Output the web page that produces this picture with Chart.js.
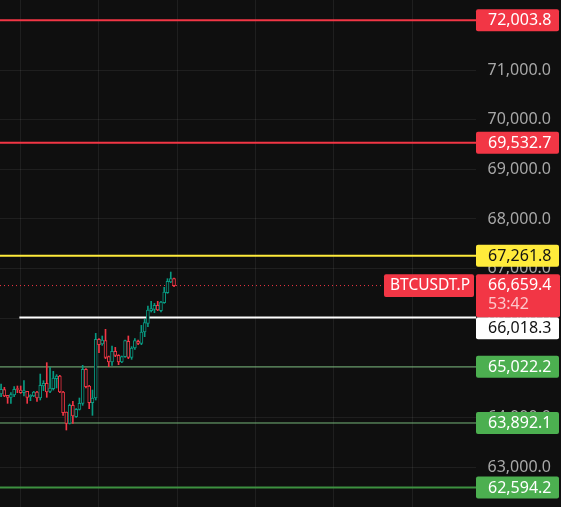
<!DOCTYPE html>
<html>
<head>
<meta charset="utf-8">
<script src="https://cdn.jsdelivr.net/npm/chart.js@4.4.1/dist/chart.umd.min.js"></script>
<style>
  html, body { margin: 0; padding: 0; background: #0f0f0f; }
  canvas { display: block; }
</style>
</head>
<body>
<canvas id="chart" width="561" height="507"></canvas>
<script>
// 1h candles, BTCUSDT.P
const opens  = [64476,64565,64449,64409,64455,64583,64556,64503,64529,64422,64435,64516,64395,64637,64691,64529,64583,64784,64838,64516,64113,63885,64248,64019,64167,64288,64972,64637,64301,64395,65577,65483,65550,65228,65120,65335,65254,65120,65228,65536,65214,65402,65536,65496,65724,65899,66154,66181,66261,66154,66315,66516,66731,66798];
const highs  = [64677,64610,64449,64503,64624,64637,64637,64744,64529,64462,64529,64529,64878,64744,65107,65013,64932,64865,64852,64529,64113,64274,64328,64181,64395,65053,64986,64650,64556,65697,65590,65644,65778,65241,65442,65415,65268,65241,65563,65644,65429,65590,65563,65858,65979,66248,66342,66301,66342,66342,66624,66798,66932,66812];
const lows   = [64422,64422,64288,64288,64422,64503,64489,64435,64288,64341,64422,64328,64355,64543,64409,64503,64556,64597,64503,64046,63751,63871,63885,64006,64154,64248,64597,64181,64046,64355,65308,65456,65187,65026,65053,65228,65066,65107,65214,65187,65174,65375,65469,65469,65630,65832,66127,66113,66154,66127,66301,66503,66718,66637];
const closes = [64570,64435,64409,64462,64570,64570,64503,64543,64409,64449,64516,64395,64650,64691,64516,64597,64798,64838,64516,64100,63885,64248,64033,64167,64288,64972,64624,64301,64395,65577,65469,65563,65214,65120,65335,65254,65120,65228,65550,65214,65402,65550,65496,65724,65912,66167,66194,66261,66167,66328,66530,66744,66798,66659.4];

const levelPrices = [72003.8, 69532.7, 67261.8, 66018.3, 65022.2, 63892.1, 62594.2];
const lastPrice = 66659.4;
const symbol = 'BTCUSDT.P';
const countdown = '53:42';
const priceTicks = [63000, 64000, 65000, 66000, 67000, 68000, 69000, 70000, 71000, 72000];
const dayTicks = [6, 30, 54, 78, 102, 126];   // candle index of each day start

const xMin = -0.337, xMax = 145.56;
const yMin = 62200.6, yMax = 72409.6;

const BG = '#0f0f0f';
const UP = '#089981', DOWN = '#f23645';
const GRID = 'rgba(255,255,255,0.07)';
const FONT = '16px "Noto Sans"';

// line / label look for each level, same order as levelPrices
const levelStyle = [
  { line: '#f23645', width: 2, box: '#f23645', text: '#ffffff', from: xMin },
  { line: '#f23645', width: 2, box: '#f23645', text: '#ffffff', from: xMin },
  { line: '#ffeb3b', width: 2, box: '#ffeb3b', text: '#131313', from: xMin },
  { line: '#ffffff', width: 2, box: '#ffffff', text: '#131313', from: 5.6 },
  { line: 'rgba(129,199,132,0.9)', width: 1, box: '#4caf50', text: '#ffffff', from: xMin },
  { line: 'rgba(129,199,132,0.9)', width: 1, box: '#4caf50', text: '#ffffff', from: xMin },
  { line: '#3d9140', width: 2, box: '#4caf50', text: '#ffffff', from: xMin }
];

function fmt(v) {
  return Number(v).toLocaleString('en-US', { minimumFractionDigits: 1, maximumFractionDigits: 1 });
}

const candleColors = opens.map((o, i) => closes[i] >= o ? UP : DOWN);

const datasets = [];

levelPrices.forEach((p, i) => {
  datasets.push({
    type: 'line',
    data: [{ x: levelStyle[i].from, y: p }, { x: xMax, y: p }],
    borderColor: levelStyle[i].line,
    borderWidth: levelStyle[i].width,
    pointRadius: 0,
    order: 5
  });
});

datasets.push({
  type: 'line',
  data: [{ x: xMin, y: lastPrice }, { x: xMax, y: lastPrice }],
  borderColor: DOWN,
  borderWidth: 1,
  borderDash: [1, 3],
  pointRadius: 0,
  order: 4
});

// wicks
datasets.push({
  type: 'bar',
  data: opens.map((o, i) => ({ x: i, y: [lows[i], highs[i]] })),
  backgroundColor: candleColors,
  borderWidth: 0,
  barThickness: 1,
  grouped: false,
  order: 3
});

// bodies
datasets.push({
  type: 'bar',
  data: opens.map((o, i) => ({ x: i, y: [o, closes[i]] })),
  backgroundColor: BG,
  borderColor: candleColors,
  borderWidth: 1,
  borderSkipped: false,
  barThickness: 3,
  grouped: false,
  order: 2
});

const bgPlugin = {
  id: 'bg',
  beforeDraw(chart) {
    const c = chart.ctx;
    c.save();
    c.fillStyle = BG;
    c.fillRect(0, 0, chart.width, chart.height);
    c.restore();
  }
};

const labelPlugin = {
  id: 'priceLabels',
  afterDraw(chart) {
    const c = chart.ctx;
    const ys = chart.scales.y;
    const left = chart.chartArea.right;
    const w = 83;
    c.save();
    c.font = FONT;
    c.textBaseline = 'middle';

    // current price box
    const py = ys.getPixelForValue(lastPrice);
    const curTop = py - 11.3, curH = 43;

    const boxes = levelPrices.map((p, i) => ({ p, i, y: ys.getPixelForValue(p) - 11 }));
    boxes.sort((a, b) => a.y - b.y);
    boxes.forEach(b => {
      if (b.y < curTop + curH && b.y + 22 > curTop) {
        b.y = b.y > curTop ? curTop + curH : curTop - 22;
      }
      const st = levelStyle[b.i];
      c.fillStyle = st.box;
      c.beginPath();
      c.roundRect(left, b.y, w, 22, 2);
      c.fill();
      c.fillStyle = st.text;
      c.textAlign = 'left';
      c.fillText(fmt(b.p), left + 12, b.y + 11.5);
    });

    c.fillStyle = DOWN;
    c.beginPath();
    c.roundRect(left, curTop, w + 1, curH, 2);
    c.fill();
    c.fillStyle = '#ffffff';
    c.textAlign = 'left';
    c.fillText(fmt(lastPrice), left + 12, curTop + 11.5);
    c.fillStyle = 'rgba(255,255,255,0.72)';
    c.fillText(countdown, left + 12, curTop + 30.5);

    // symbol tag
    c.fillStyle = DOWN;
    c.beginPath();
    c.roundRect(384, curTop, 90, 22.7, 2);
    c.fill();
    c.fillStyle = '#ffffff';
    c.font = '15.5px "Noto Sans"';
    c.fillText(symbol, 390, curTop + 11.8);
    c.restore();
  }
};

Chart.defaults.font.family = '"Noto Sans"';

new Chart(document.getElementById('chart'), {
  type: 'bar',
  data: { datasets },
  options: {
    responsive: false,
    animation: false,
    devicePixelRatio: 1,
    layout: { padding: { left: 0, right: 10, top: 0, bottom: 0 } },
    plugins: { legend: { display: false }, tooltip: { enabled: false } },
    scales: {
      x: {
        type: 'linear',
        min: xMin,
        max: xMax,
        offset: false,
        afterBuildTicks: s => { s.ticks = dayTicks.map(v => ({ value: v })); },
        afterFit: s => { s.height = 0; s.paddingLeft = 0; s.paddingRight = 0; },
        ticks: { display: false, padding: 0 },
        grid: { color: GRID, drawTicks: false, offset: false },
        border: { display: false }
      },
      y: {
        position: 'right',
        min: yMin,
        max: yMax,
        afterBuildTicks: s => { s.ticks = priceTicks.map(v => ({ value: v })); },
        afterFit: s => { s.width = 75; s.paddingTop = 0; s.paddingBottom = 0; },
        ticks: {
          crossAlign: 'far',
          padding: 0,
          color: '#a8a8a8',
          font: { size: 16 },
          callback: v => fmt(v)
        },
        grid: { color: GRID, drawTicks: false },
        border: { display: false }
      }
    }
  },
  plugins: [bgPlugin, labelPlugin]
});
</script>
</body>
</html>
